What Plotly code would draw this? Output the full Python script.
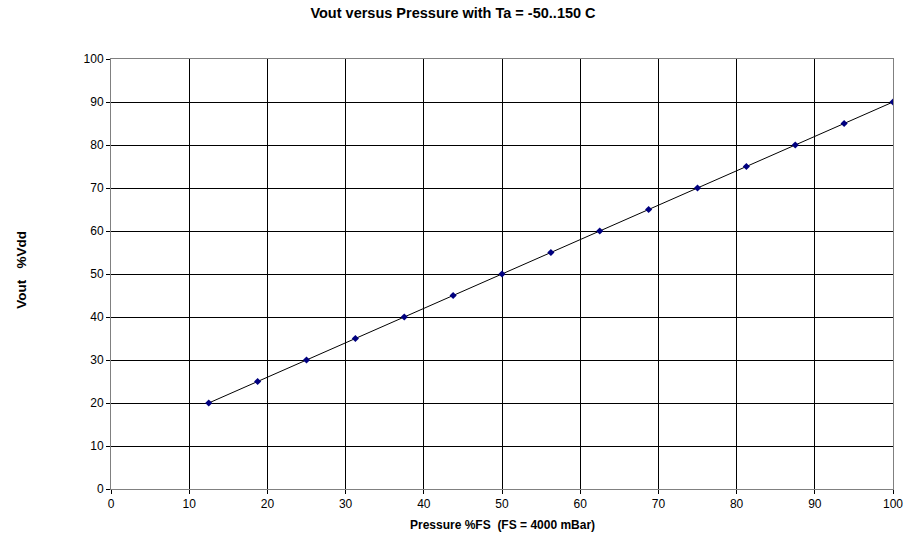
import plotly.graph_objects as go

pressure_pct = [12.5, 18.75, 25, 31.25, 37.5, 43.75, 50, 56.25, 62.5, 68.75, 75, 81.25, 87.5, 93.75, 100]
vout_pct = [20, 25, 30, 35, 40, 45, 50, 55, 60, 65, 70, 75, 80, 85, 90]
tick_vals = [0, 10, 20, 30, 40, 50, 60, 70, 80, 90, 100]

fig = go.Figure()
fig.add_trace(go.Scatter(
    x=pressure_pct, y=vout_pct, mode="lines+markers",
    line=dict(color="black", width=1),
    marker=dict(symbol="diamond", size=5.5, color="#000080"),
    showlegend=False,
))

font = "Liberation Sans, Arial, sans-serif"
axis_common = dict(
    range=[0, 100], tickvals=tick_vals, ticks="outside", ticklen=4, tickcolor="black",
    showgrid=True, gridcolor="black", gridwidth=1, zeroline=False,
    showline=True, linecolor="#808080", linewidth=1, mirror=True, automargin=False,
    tickfont=dict(family=font, size=12, color="black"),
)
fig.update_xaxes(**axis_common)
fig.update_yaxes(**axis_common)

nb = "\u00a0"
fig.update_layout(
    width=906, height=540,
    margin=dict(l=111, r=13, t=59, b=51),
    paper_bgcolor="white", plot_bgcolor="white",
    title=dict(text="<b>Vout versus Pressure with Ta = -50..150 C</b>", x=0.5, xanchor="center",
               y=1 - 13 / 540, yanchor="middle", font=dict(family=font, size=14.5, color="black")),
    annotations=[
        dict(text="<b>Pressure %FS" + nb * 2 + "(FS = 4000 mBar)</b>", xref="paper", yref="paper",
             x=0.5, y=-36 / 430, xanchor="center", yanchor="middle", showarrow=False,
             font=dict(family=font, size=12, color="black")),
        dict(text="<b>Vout" + nb * 3 + "%Vdd</b>", xref="paper", yref="paper",
             x=-89 / 782, y=0.51, xanchor="center", yanchor="middle", showarrow=False,
             textangle=-90, font=dict(family=font, size=13.5, color="black")),
    ],
)

fig.write_html("out.html", config={"displayModeBar": False},
               post_script="document.body.style.margin='0';document.body.style.overflow='hidden';")
